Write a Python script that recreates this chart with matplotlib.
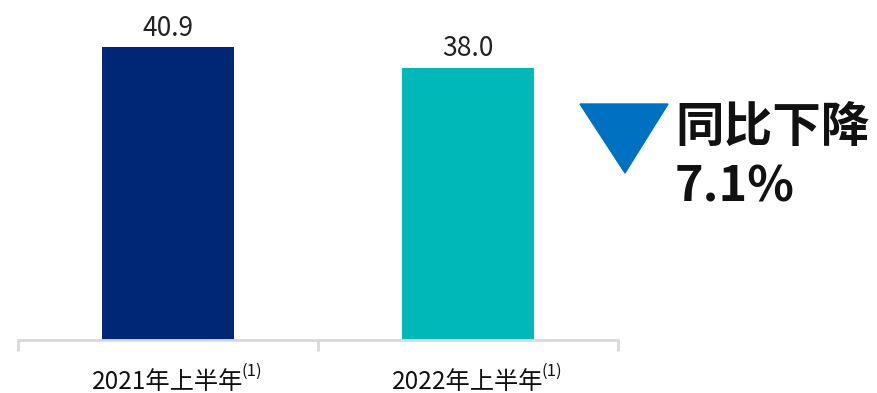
import matplotlib
matplotlib.use("Agg")
import matplotlib.pyplot as plt
from matplotlib.patches import Polygon

plt.rcParams['font.family'] = ['Noto Sans CJK SC', 'DejaVu Sans']

categories = ["2021年上半年", "2022年上半年"]
values = [40.9, 38.0]
value_labels = ["40.9", "38.0"]
footnote = "(1)"
colors = ["#002776", "#00B8B8"]
change_title = "同比下降"
change_value = "7.1%"

W, H = 877, 393
fig = plt.figure(figsize=(W / 100, H / 100), dpi=100)
ax = fig.add_axes([18 / W, (H - 340) / H, 600 / W, 340 / H])
x = list(range(len(categories)))
ax.bar(x, values, width=0.44, color=colors, zorder=2)
ax.set_xlim(-0.5, len(categories) - 0.5)
ax.set_ylim(0, 47.5)
for s in ["top", "right", "left"]:
    ax.spines[s].set_visible(False)
ax.spines["bottom"].set_color("#D9D9D9")
ax.spines["bottom"].set_linewidth(2)
ax.set_yticks([])
ax.set_xticks([i - 0.5 for i in range(len(categories) + 1)])
ax.set_xticklabels([])
ax.tick_params(axis="x", direction="out", length=8, width=2, color="#D9D9D9")

for xi, v, lab in zip(x, values, value_labels):
    ax.annotate(lab, (xi, v), xytext=(0, 4), textcoords="offset points",
                ha="center", va="bottom", fontsize=19, color="#222222")

fig.canvas.draw()
renderer = fig.canvas.get_renderer()
for xi, cat in zip(x, categories):
    t = ax.annotate(cat, (xi, 0), xytext=(0, -30), textcoords="offset points",
                    ha="center", va="center", fontsize=17.5, color="#111111")
    bb = t.get_window_extent(renderer)
    fig.text((bb.x1 - 2) / W, (bb.y1 + 6) / H, footnote, fontsize=12,
             ha="left", va="top", color="#111111")

tri = Polygon([[580 / W, 1 - 104 / H], [668 / W, 1 - 104 / H], [625 / W, 1 - 173 / H]],
              closed=True, transform=fig.transFigure, color="#0070C0")
fig.patches.append(tri)
fig.text(675 / W, 1 - 127 / H, change_title, fontsize=35, ha="left", va="center",
         color="#111111", fontweight="semibold")
fig.text(675 / W, 1 - 187 / H, change_value, fontsize=35, ha="left", va="center",
         color="#111111", fontweight="semibold")

fig.savefig("out.png", dpi=100)
